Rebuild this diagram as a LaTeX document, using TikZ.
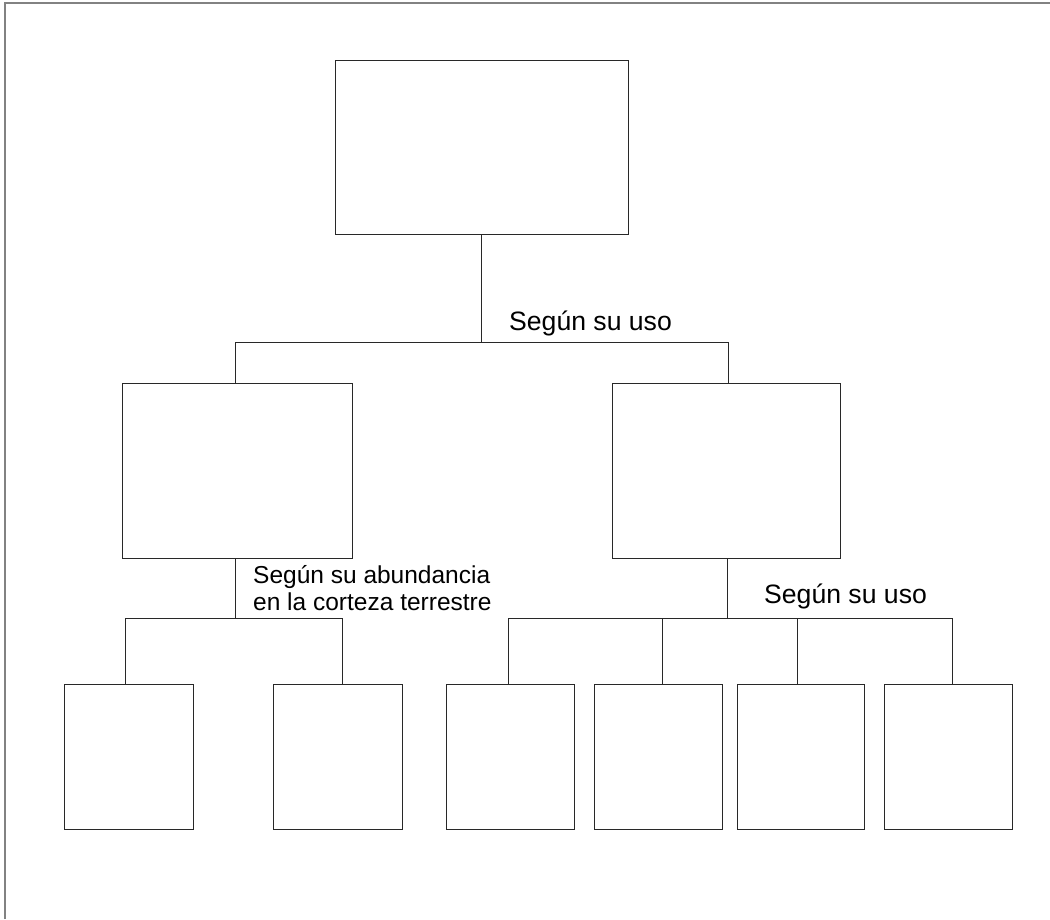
\documentclass[tikz,border=0pt]{standalone}
\usepackage{fontspec}
\setmainfont{Liberation Sans}
\definecolor{framegray}{RGB}{130,130,130}
\definecolor{linecol}{RGB}{40,40,40}
\begin{document}
\begin{tikzpicture}[x=1pt,y=-1pt,
  box/.style={draw=linecol,line width=1pt,inner sep=0pt,outer sep=0pt},
  conn/.style={draw=linecol,line width=1pt},
  lbl/.style={inner sep=0pt,anchor=base west,font=\fontsize{26.6}{30}\selectfont},
  lbls/.style={inner sep=0pt,anchor=base west,font=\fontsize{24.5}{27}\selectfont}]
\useasboundingbox (0,0) rectangle (1050,919);
% frame
\draw[framegray,line width=2pt] (5,919) -- (5,2.5) -- (1051,2.5);
% boxes
\node[box,minimum width=293pt,minimum height=174pt] (top) at (481.5,147) {};
\node[box,minimum width=230pt,minimum height=175pt] (ml) at (237,470.5) {};
\node[box,minimum width=228pt,minimum height=175pt] (mr) at (726,470.5) {};
\node[box,minimum width=129pt,minimum height=145pt] (b1) at (128.5,756.5) {};
\node[box,minimum width=129pt,minimum height=145pt] (b2) at (337.5,756.5) {};
\node[box,minimum width=128pt,minimum height=145pt] (b3) at (510.5,756.5) {};
\node[box,minimum width=128pt,minimum height=145pt] (b4) at (658.5,756.5) {};
\node[box,minimum width=127pt,minimum height=145pt] (b5) at (800.5,756.5) {};
\node[box,minimum width=128pt,minimum height=145pt] (b6) at (948,756.5) {};
% junction coordinates
\coordinate (j0) at (481,342);
\coordinate (j0l) at (235,342);
\coordinate (j0r) at (728,342);
\coordinate (j1) at (235,618);
\coordinate (j1l) at (125,618);
\coordinate (j1r) at (342,618);
\coordinate (j2) at (727,618);
\coordinate (j2a) at (508,618);
\coordinate (j2b) at (662,618);
\coordinate (j2c) at (797,618);
\coordinate (j2d) at (952,618);
% connectors
\draw[conn] (top.south -| j0) -- (j0);
\draw[conn] (j0l) -- (j0r);
\draw[conn] (j0l) -- (j0l |- ml.north);
\draw[conn] (j0r) -- (j0r |- mr.north);
\draw[conn] (j1 |- ml.south) -- (j1);
\draw[conn] (j1l) -- (j1r);
\draw[conn] (j1l) -- (j1l |- b1.north);
\draw[conn] (j1r) -- (j1r |- b2.north);
\draw[conn] (j2 |- mr.south) -- (j2);
\draw[conn] (j2a) -- (j2d);
\draw[conn] (j2a) -- (j2a |- b3.north);
\draw[conn] (j2b) -- (j2b |- b4.north);
\draw[conn] (j2c) -- (j2c |- b5.north);
\draw[conn] (j2d) -- (j2d |- b6.north);
% labels
\node[lbl] (t1) at (509,330) {Según su uso};
\node[lbls] (t2a) at (253,583) {Según su abundancia};
\node[lbls] (t2b) at (253,610) {en la corteza terrestre};
\node[lbl] (t3) at (764,603) {Según su uso};
\end{tikzpicture}
\end{document}
